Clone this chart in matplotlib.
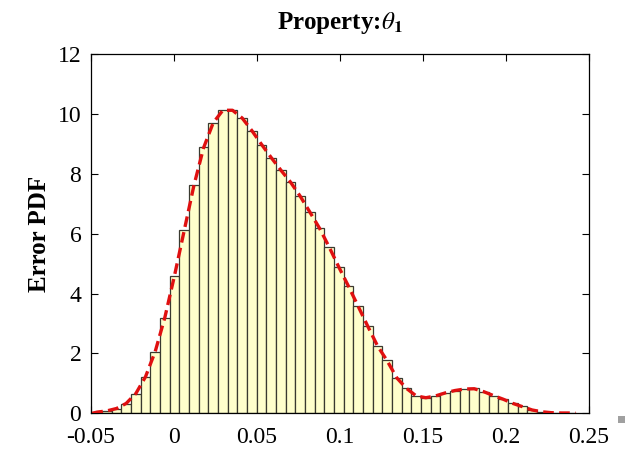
import numpy as np
import matplotlib
matplotlib.use('Agg')
import matplotlib.pyplot as plt

plt.rcParams['font.family'] = ['Liberation Serif', 'DejaVu Serif']
plt.rcParams['mathtext.fontset'] = 'stix'
plt.rcParams['axes.unicode_minus'] = False

# error range covered by the 50 histogram bins
x_min = -0.0492
x_max = 0.2420

# pdf-normalised bin heights
pdf_heights = [0.03, 0.06, 0.14, 0.30, 0.65, 1.20, 2.04, 3.18, 4.58, 6.12,
               7.62, 8.90, 9.70, 10.13, 10.13, 9.87, 9.43, 8.96, 8.53, 8.13,
               7.73, 7.26, 6.72, 6.19, 5.55, 4.88, 4.25, 3.58, 2.91, 2.24,
               1.77, 1.17, 0.84, 0.57, 0.51, 0.58, 0.68, 0.76, 0.81, 0.83,
               0.72, 0.59, 0.48, 0.33, 0.23, 0.10, 0.04, 0.02, 0.01, 0.01]

# fitted density curve, sampled at the bin centres
fit_density = [0.04, 0.08, 0.16, 0.33, 0.66, 1.22, 2.06, 3.20, 4.60, 6.10,
               7.60, 8.86, 9.70, 10.12, 10.12, 9.86, 9.44, 8.98, 8.54, 8.12,
               7.72, 7.25, 6.72, 6.18, 5.55, 4.88, 4.24, 3.57, 2.90, 2.25,
               1.75, 1.18, 0.83, 0.58, 0.52, 0.58, 0.68, 0.76, 0.81, 0.82,
               0.72, 0.59, 0.47, 0.33, 0.22, 0.11, 0.05, 0.02, 0.01, 0.01]

xticks = [-0.05, 0, 0.05, 0.1, 0.15, 0.2, 0.25]
xtick_labels = ['-0.05', '0', '0.05', '0.1', '0.15', '0.2', '0.25']
yticks = [0, 2, 4, 6, 8, 10, 12]

edges = np.linspace(x_min, x_max, len(pdf_heights) + 1)
centers = 0.5 * (edges[:-1] + edges[1:])
widths = np.diff(edges)

fig = plt.figure(figsize=(6.29, 4.51), dpi=100)
ax = fig.add_axes([0.1447, 0.0836, 0.7917, 0.7967])

ax.bar(edges[:-1], pdf_heights, width=widths, align='edge',
       facecolor='#ffffcc', edgecolor='#3a3a30', linewidth=0.9, zorder=2)

curve_x = np.concatenate([[x_min], centers, [x_max]])
curve_y = np.concatenate([[0.0], fit_density, [0.0]])
ax.plot(curve_x, curve_y, color='#e01010', linewidth=2.4,
        dashes=(3.2, 1.6), zorder=3)

ax.set_xlim(-0.05, 0.25)
ax.set_ylim(0, 12)
ax.set_xticks(xticks)
ax.set_xticklabels(xtick_labels)
ax.set_yticks(yticks)
ax.tick_params(direction='in', length=5, width=0.8, labelsize=17,
               top=True, right=True)
ax.tick_params(axis='x', pad=10)
ax.tick_params(axis='y', pad=7)
for s in ax.spines.values():
    s.set_linewidth(0.9)

ax.set_title(r'Property:$\theta_{\mathbf{1}}$', fontsize=18,
             fontweight='bold', pad=18)
ax.set_ylabel('Error PDF', fontsize=18, fontweight='bold', labelpad=5)

# small grey square at the lower right edge of the canvas
fig.patches.append(plt.Rectangle((0.982, 0.062), 0.011, 0.015,
                                 transform=fig.transFigure,
                                 facecolor='#a0a0a0', edgecolor='none'))

fig.savefig('out.png', dpi=100)
